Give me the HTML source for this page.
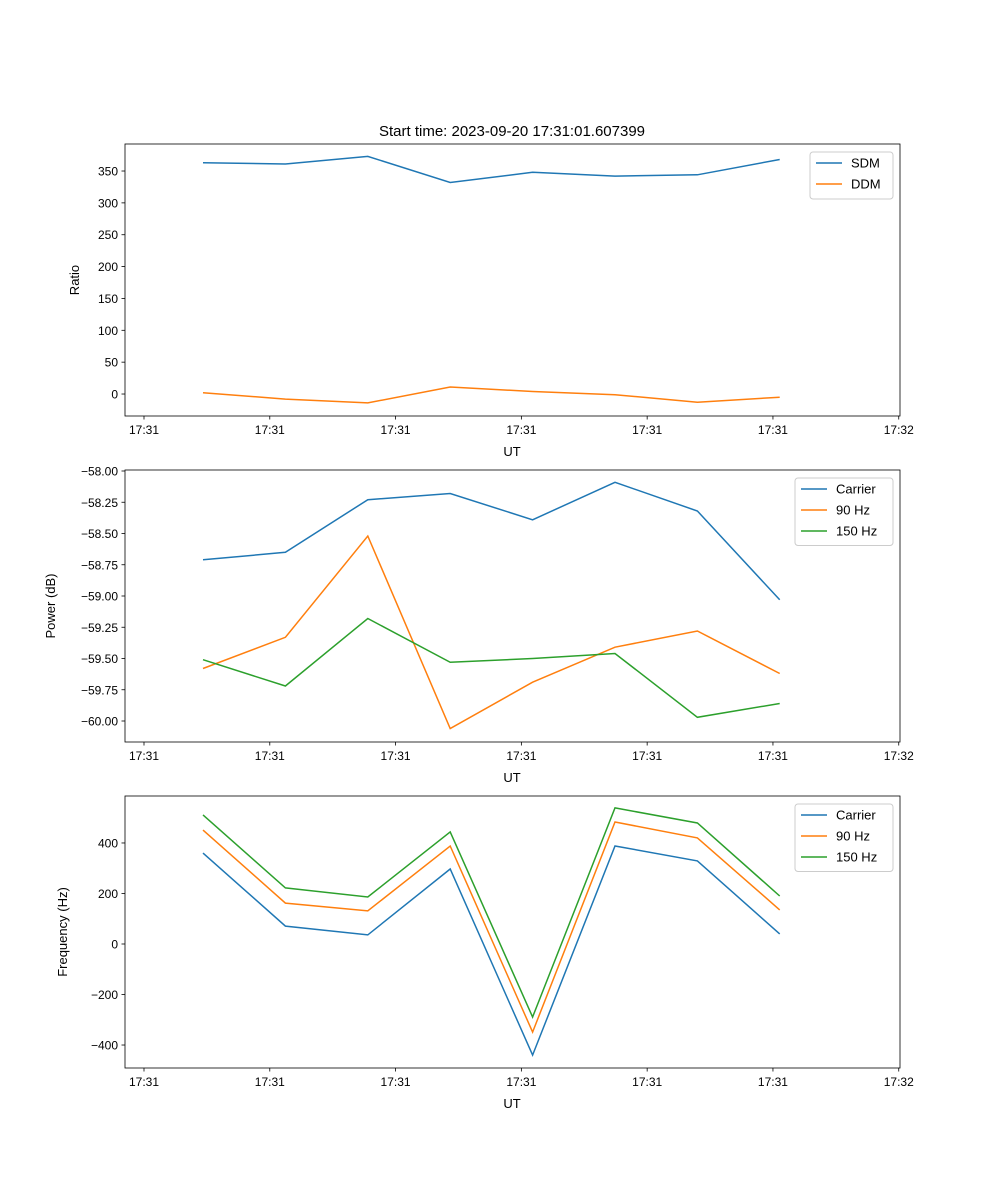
<!DOCTYPE html>
<html><head><meta charset="utf-8"><style>body{margin:0;background:#fff}svg{display:block;font-family:"Liberation Sans","DejaVu Sans",sans-serif}</style></head>
<body>
<svg id="fig" width="1000" height="1200" xmlns="http://www.w3.org/2000/svg">
<rect width="1000" height="1200" fill="#fff"/>
<text x="512" y="136" text-anchor="middle" font-size="15">Start time: 2023-09-20 17:31:01.607399</text>
</svg>
<script>
const times = [4.69, 11.24, 17.79, 24.34, 30.89, 37.44, 43.99, 50.54];
const tickSecs = [0, 10, 20, 30, 40, 50, 60];
const tickLabels = ["17:31","17:31","17:31","17:31","17:31","17:31","17:32"];
const sdm = [363, 361, 373, 332, 348, 342, 344, 368];
const ddm = [2, -8, -14, 11, 4, -1, -13, -5];
const pwrCarrier = [-58.71, -58.65, -58.23, -58.18, -58.39, -58.09, -58.32, -59.03];
const pwr90 = [-59.58, -59.33, -58.52, -60.06, -59.69, -59.41, -59.28, -59.62];
const pwr150 = [-59.51, -59.72, -59.18, -59.53, -59.50, -59.46, -59.97, -59.86];
const frqCarrier = [360, 71, 36, 297, -440, 388, 329, 40];
const frq90 = [451, 162, 131, 388, -349, 483, 420, 135];
const frq150 = [511, 222, 186, 444, -289, 539, 479, 190];
const ratioTicks = [0, 50, 100, 150, 200, 250, 300, 350];
const pwrTicks = [-60.00, -59.75, -59.50, -59.25, -59.00, -58.75, -58.50, -58.25, -58.00];
const frqTicks = [-400, -200, 0, 200, 400];

const NS = "http://www.w3.org/2000/svg";
const svg = document.getElementById('fig');
const X0 = 125, X1 = 900, XMIN = -1.51, XMAX = 60.1;
function xs(t){ return X0 + (t - XMIN) / (XMAX - XMIN) * (X1 - X0); }
function mk(tag, attrs, parent){ const e = document.createElementNS(NS, tag); for (const k in attrs) e.setAttribute(k, attrs[k]); (parent||svg).appendChild(e); return e; }
const C = ['#1f77b4', '#ff7f0e', '#2ca02c'];

function panel(name, top, ymin, ymax, yticks, fmt, ylabel, labelX, series, names, legW){
  const bot = top + 272;
  const ys = v => bot - (v - ymin) / (ymax - ymin) * 272;
  const g = mk('g', {});
  
  
  series.forEach((s, i) => {
    const pl = mk('polyline', {points: s.map((v, j) => xs(times[j]).toFixed(1) + ',' + ys(v).toFixed(1)).join(' '), fill: 'none', stroke: C[i], 'stroke-width': 1.5}, g);
    
    
  });
  mk('rect', {x: X0, y: top, width: X1 - X0, height: 272, fill: 'none', stroke: '#000', 'stroke-width': 0.8}, g);
  tickSecs.forEach((t, i) => {
    const x = xs(t);
    mk('line', {x1: x, x2: x, y1: bot, y2: bot + 3.5, stroke: '#000', 'stroke-width': 0.8}, g);
    const tx = mk('text', {x: x, y: bot + 18, 'text-anchor': 'middle', 'font-size': 12}, g);
    tx.textContent = tickLabels[i];
    
    
  });
  const xl = mk('text', {x: 512, y: bot + 40, 'text-anchor': 'middle', 'font-size': 13}, g);
  xl.textContent = 'UT';
  
  
  yticks.forEach(v => {
    const y = ys(v);
    mk('line', {x1: X0 - 3.5, x2: X0, y1: y, y2: y, stroke: '#000', 'stroke-width': 0.8}, g);
    const tx = mk('text', {x: X0 - 7, y: y + 4.5, 'text-anchor': 'end', 'font-size': 12}, g);
    tx.textContent = fmt(v);
    
    
  });
  const lx = labelX;
  const yl = mk('text', {x: lx, y: top + 136, 'text-anchor': 'middle', 'font-size': 13, transform: `rotate(-90 ${lx} ${top + 136})`}, g);
  yl.textContent = ylabel;
  
  
  const lg = mk('g', {}, g);
  
  
  const lw = legW, lh = 6 + names.length * 20.5;
  mk('rect', {x: 893 - lw, y: top + 8, width: lw, height: lh, rx: 3, fill: '#fff', stroke: '#ccc', 'stroke-width': 1}, lg);
  names.forEach((n, i) => {
    const y = top + 19 + i * 21;
    mk('line', {x1: 893 - lw + 6, x2: 893 - lw + 32, y1: y, y2: y, stroke: C[i], 'stroke-width': 1.5}, lg);
    const t = mk('text', {x: 893 - lw + 41, y: y + 4.5, 'font-size': 13}, lg);
    t.textContent = n;
    
    
  });
}
panel('ratio', 144, -34.5, 392.4, ratioTicks, v => String(v), 'Ratio', 79, [sdm, ddm], ['SDM', 'DDM'], 83);
panel('power', 470, -60.168, -57.992, pwrTicks, v => v.toFixed(2).replace('-', '\u2212'), 'Power (dB)', 55, [pwrCarrier, pwr90, pwr150], ['Carrier', '90 Hz', '150 Hz'], 98);
panel('frequency', 796, -491, 586, frqTicks, v => String(v).replace('-', '\u2212'), 'Frequency (Hz)', 67, [frqCarrier, frq90, frq150], ['Carrier', '90 Hz', '150 Hz'], 98);
</script>
</body></html>
